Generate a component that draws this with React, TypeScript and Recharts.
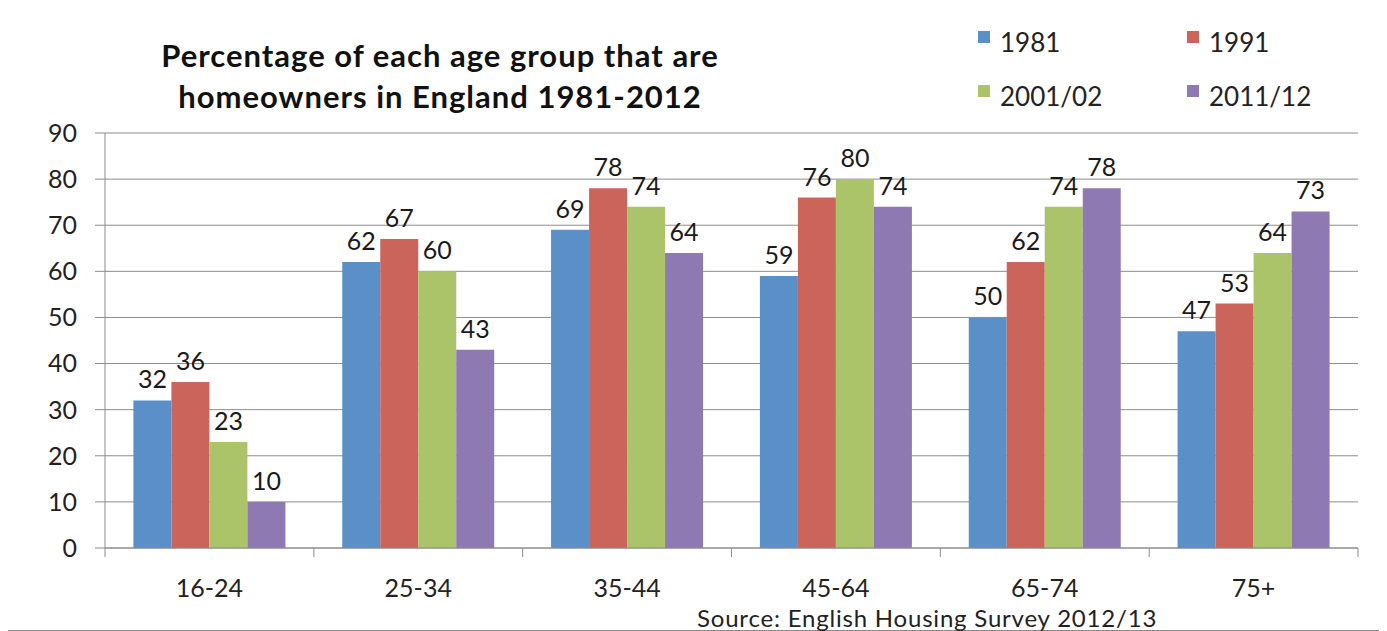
import { BarChart, Bar, XAxis, YAxis, CartesianGrid, Legend, LabelList } from 'recharts';

const ageGroups = ["16-24", "25-34", "35-44", "45-64", "65-74", "75+"];
const y1981 = [32, 62, 69, 59, 50, 47];
const y1991 = [36, 67, 78, 76, 62, 53];
const y2001 = [23, 60, 74, 80, 74, 64];
const y2011 = [10, 43, 64, 74, 78, 73];
const yTicks = [0, 10, 20, 30, 40, 50, 60, 70, 80, 90];

const series = [
    { key: "1981", values: y1981, color: "#5B8FC7" },
    { key: "1991", values: y1991, color: "#CB645A" },
    { key: "2001/02", values: y2001, color: "#ABC46A" },
    { key: "2011/12", values: y2011, color: "#8F79B2" },
];

const data = ageGroups.map((g, i) => {
    const row: any = { name: g };
    series.forEach((s) => (row[s.key] = s.values[i]));
    return row;
});

const FONT = "Lato, 'Open Sans', sans-serif";
const GREY = "#8c8c8c";
const CHART_W = 1372;
const CHART_H = 622;
// legend on top adds ~85 to the top, x axis adds its 30px height to the bottom
const MARGIN = { top: 39, right: 22, bottom: 52, left: 0 };
const Y_W = 97;
const BAND = (CHART_W - MARGIN.left - MARGIN.right - Y_W) / ageGroups.length;

function AgeTick(props: any) {
    const { x, y, payload } = props;
    const last = payload.value === ageGroups[ageGroups.length - 1];
    return (
        <g>
            <line x1={x - BAND / 2} x2={x - BAND / 2} y1={y} y2={y + 9} stroke={GREY} />
            {last && <line x1={x + BAND / 2} x2={x + BAND / 2} y1={y} y2={y + 9} stroke={GREY} />}
            <text x={x} y={y + 49} textAnchor="middle" fontSize={25} fontFamily={FONT} fill="#222">
                {payload.value}
            </text>
        </g>
    );
}

function LegendBox(props: any) {
    const items = props.payload || [];
    return (
        <div style={{ display: "grid", gridTemplateColumns: "209px 180px", rowGap: 22, fontFamily: FONT }}>
            {items.map((it: any) => (
                <div key={it.value} style={{ display: "flex", alignItems: "center", height: 32 }}>
                    <span style={{ width: 12, height: 12, background: it.color, marginRight: 10, transform: "translateY(-5px)" }} />
                    <span style={{ fontSize: 26, color: "#222" }}>{it.value}</span>
                </div>
            ))}
        </div>
    );
}

export default function App() {
    return (
        <div style={{ position: "relative", marginLeft: -1, marginTop: -1, width: CHART_W, height: CHART_H, border: "1px solid #8a8a8a", background: "#fff" }}>
            <style>{`body{overflow:hidden}`}</style>
            <div style={{ position: "absolute", left: 0, top: 27, width: 864, textAlign: "center", fontFamily: FONT, fontWeight: 700, fontSize: 31, letterSpacing: 1, lineHeight: "41px", color: "#111" }}>
                Percentage of each age group that are<br />homeowners in England 1981-2012
            </div>
            <BarChart width={CHART_W} height={CHART_H} data={data} margin={MARGIN} barCategoryGap="13.6%" barGap={0}>
                <CartesianGrid vertical={false} stroke={GREY} />
                <XAxis dataKey="name" tickSize={0} tickMargin={0} tick={<AgeTick />} axisLine={{ stroke: GREY }} tickLine={false} interval={0} />
                <YAxis width={Y_W} domain={[0, 90]} ticks={yTicks} interval={0} tickSize={10} tickMargin={18}
                    axisLine={{ stroke: GREY }} tickLine={{ stroke: GREY }}
                    tick={{ fontSize: 25, fontFamily: FONT, fill: "#222" }} />
                <Legend content={<LegendBox />} verticalAlign="top" align="left"
                    wrapperStyle={{ top: 18, left: 970, width: 400 }} />
                {series.map((s) => (
                    <Bar key={s.key} dataKey={s.key} fill={s.color} isAnimationActive={false}>
                        <LabelList dataKey={s.key} position="top" offset={12} fontSize={25} fontFamily={FONT} fill="#1a1a1a" />
                    </Bar>
                ))}
            </BarChart>
            <div style={{ position: "absolute", left: 689, top: 598, fontFamily: FONT, fontSize: 24, letterSpacing: 0.8, lineHeight: "24px", color: "#222", whiteSpace: "nowrap" }}>
                Source: English Housing Survey 2012/13
            </div>
        </div>
    );
}
